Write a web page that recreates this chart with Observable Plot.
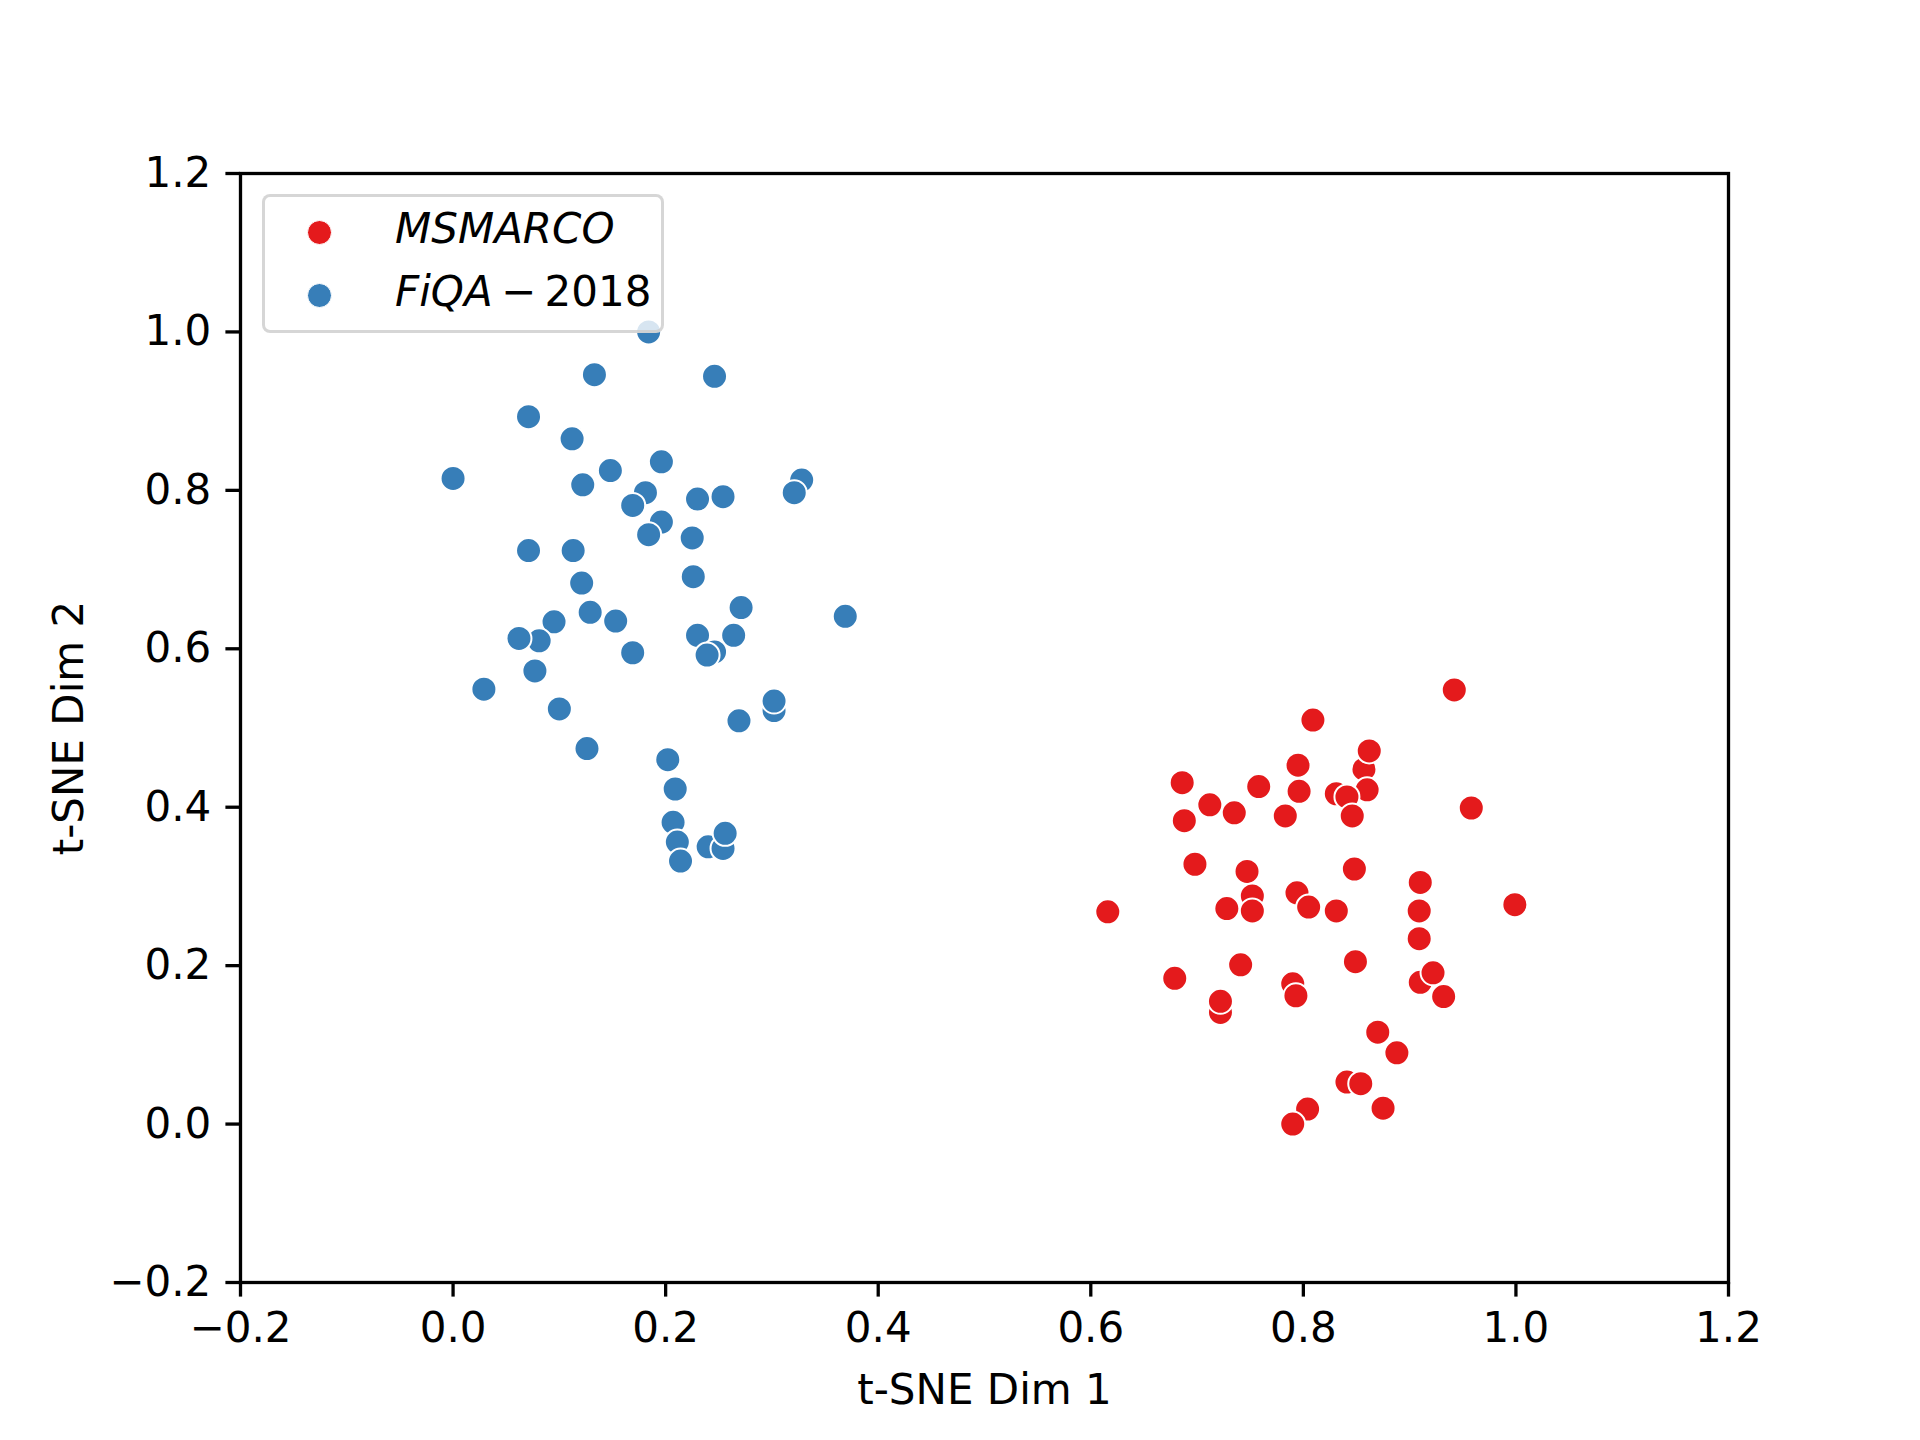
<!DOCTYPE html>
<html>
<head>
<meta charset="utf-8">
<script src="https://cdn.jsdelivr.net/npm/d3@7"></script>
<script src="https://cdn.jsdelivr.net/npm/@observablehq/plot@0.6"></script>
<style>
  html, body { margin: 0; padding: 0; background: white; }
  #wrap { position: relative; width: 1920px; height: 1440px; font-family: "DejaVu Sans", sans-serif; }
  #legend { position: absolute; left: 262px; top: 194px; width: 402px; height: 139px; box-sizing: border-box;
            border: 3px solid rgba(204,204,204,0.8); border-radius: 8px; background: rgba(255,255,255,0.8); }
  .mk { position: absolute; width: 25px; height: 25px; border-radius: 50%; box-sizing: border-box; border: 1px solid white; }
  .lt { position: absolute; font-size: 42px; line-height: 42px; white-space: pre; color: black; }
</style>
</head>
<body>
<div id="wrap"></div>
<script>
const seriesNames = ["MSMARCO", "FiQA-2018"];
const seriesColors = ["#e41a1c", "#377eb8"];
const tickValues = [-0.2, 0.0, 0.2, 0.4, 0.6, 0.8, 1.0, 1.2];
const xLabel = "t-SNE Dim 1";
const yLabel = "t-SNE Dim 2";

const msmarcoX = [0.942, 0.809, 0.857, 0.862, 0.860, 0.795, 0.796, 0.686, 0.758, 0.712, 0.735, 0.688, 0.783,
  0.831, 0.841, 0.846, 0.958, 0.698, 0.747, 0.848, 0.910, 0.752, 0.728, 0.752, 0.794, 0.805, 0.831, 0.909,
  0.999, 0.616, 0.909, 0.849, 0.741, 0.679, 0.910, 0.922, 0.932, 0.790, 0.793, 0.722, 0.722, 0.870, 0.888,
  0.841, 0.854, 0.875, 0.804, 0.790];
const msmarcoY = [0.548, 0.510, 0.448, 0.471, 0.422, 0.453, 0.420, 0.431, 0.426, 0.403, 0.393, 0.383, 0.389,
  0.417, 0.413, 0.389, 0.399, 0.328, 0.319, 0.322, 0.305, 0.288, 0.272, 0.269, 0.292, 0.274, 0.269, 0.269,
  0.277, 0.268, 0.234, 0.205, 0.201, 0.184, 0.179, 0.191, 0.161, 0.177, 0.162, 0.141, 0.155, 0.116, 0.090,
  0.053, 0.051, 0.020, 0.019, 0.000];

const fiqaX = [0.184, 0.133, 0.246, 0.071, 0.112, 0.000, 0.148, 0.196, 0.122, 0.181, 0.169, 0.230, 0.254,
  0.328, 0.321, 0.196, 0.184, 0.225, 0.071, 0.113, 0.226, 0.121, 0.271, 0.369, 0.129, 0.153, 0.095, 0.081,
  0.062, 0.230, 0.264, 0.169, 0.246, 0.239, 0.077, 0.029, 0.100, 0.302, 0.302, 0.269, 0.126, 0.202, 0.209,
  0.207, 0.211, 0.214, 0.240, 0.254, 0.256];
const fiqaY = [1.000, 0.946, 0.944, 0.893, 0.865, 0.815, 0.825, 0.836, 0.807, 0.797, 0.781, 0.789, 0.792,
  0.813, 0.797, 0.760, 0.744, 0.740, 0.724, 0.724, 0.691, 0.683, 0.652, 0.641, 0.646, 0.635, 0.634, 0.610,
  0.613, 0.617, 0.617, 0.595, 0.596, 0.592, 0.572, 0.549, 0.524, 0.522, 0.534, 0.509, 0.474, 0.460, 0.423,
  0.381, 0.356, 0.332, 0.350, 0.348, 0.367];

const points = [
  ...msmarcoX.map((x, i) => ({x, y: msmarcoY[i], s: seriesNames[0]})),
  ...fiqaX.map((x, i) => ({x, y: fiqaY[i], s: seriesNames[1]}))
];

const fmt = d3.format(".1f");
const FS = 42;

const chart = Plot.plot({
  width: 1920,
  height: 1440,
  marginLeft: 240,
  marginRight: 192,
  marginTop: 173,
  marginBottom: 158,
  style: {fontFamily: "DejaVu Sans", fontSize: FS + "px", background: "white", color: "black"},
  x: {domain: [-0.2, 1.2]},
  y: {domain: [-0.2, 1.2]},
  color: {domain: seriesNames, range: seriesColors},
  marks: [
    Plot.axisX({ticks: tickValues, tickFormat: fmt, tickSize: 14.6, tickPadding: 14.6, strokeWidth: 3.3, label: null, fontSize: FS}),
    Plot.axisY({ticks: tickValues, tickFormat: fmt, tickSize: 14.6, tickPadding: 14.6, strokeWidth: 3.3, label: null, fontSize: FS}),
    Plot.dot(points, {x: "x", y: "y", fill: "s", r: 12.5, stroke: "white", strokeWidth: 2}),
    Plot.frame({stroke: "black", strokeWidth: 3.3}),
    Plot.text([xLabel], {text: d => d, frameAnchor: "bottom", textAnchor: "middle", lineAnchor: "middle", dy: 107.6, fontSize: FS}),
    Plot.text([yLabel], {text: d => d, frameAnchor: "left", textAnchor: "middle", lineAnchor: "middle", rotate: -90, dx: -171.4, fontSize: FS})
  ]
});

const wrap = document.getElementById("wrap");
wrap.appendChild(chart);

// Legend (HTML overlay)
const legend = document.createElement("div");
legend.id = "legend";
const rows = [
  {html: "<i>MSMARCO</i>", color: seriesColors[0], cy: 35.7, top: 10.5},
  {html: "<i>FiQA</i>\u2009\u2212\u20092018", color: seriesColors[1], cy: 98, top: 74.2}
];
rows.forEach(r => {
  const m = document.createElement("div");
  m.className = "mk";
  m.style.background = r.color;
  m.style.left = (54 - 12.5) + "px";
  m.style.top = (r.cy - 12.5) + "px";
  legend.appendChild(m);
  const t = document.createElement("div");
  t.className = "lt";
  t.innerHTML = r.html;
  t.style.left = "130px";
  t.style.top = r.top + "px";
  legend.appendChild(t);
});
wrap.appendChild(legend);
</script>
</body>
</html>
